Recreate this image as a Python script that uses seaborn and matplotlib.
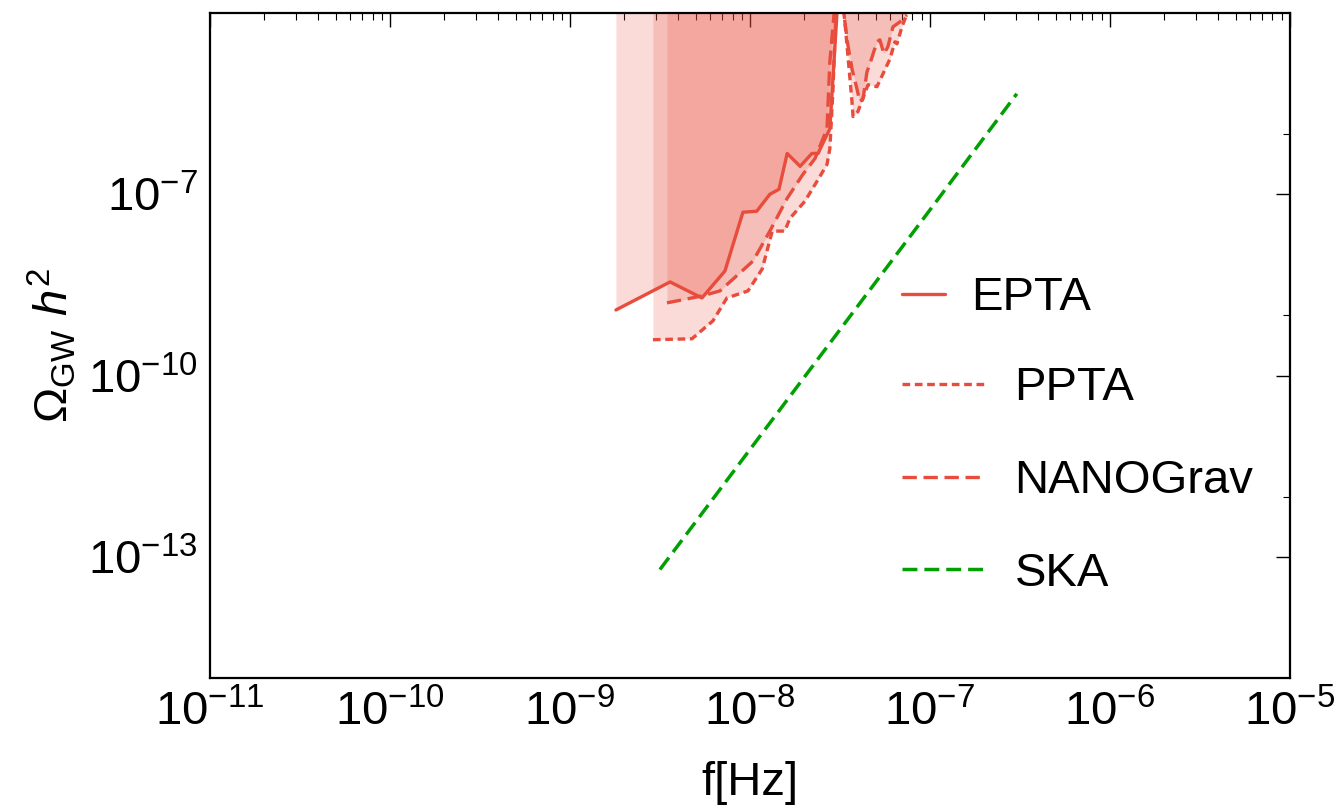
import matplotlib
matplotlib.use("Agg")
import matplotlib.pyplot as plt
import numpy as np
import seaborn as sns
from matplotlib.lines import Line2D
from matplotlib.ticker import FixedLocator, LogFormatterSciNotation, LogLocator, NullFormatter

# pulsar timing array limits
epta_f = [1.80e-9, 3.60e-9, 5.41e-9, 7.26e-9, 9.14e-9, 1.09e-8, 1.29e-8, 1.45e-8,
          1.61e-8, 1.90e-8, 2.21e-8, 2.39e-8, 2.78e-8, 3.09e-8]
epta_omega = [1.22e-9, 3.55e-9, 1.93e-9, 5.38e-9, 5.05e-8, 5.24e-8, 1.00e-7, 1.21e-7,
              4.74e-7, 2.90e-7, 4.74e-7, 4.74e-7, 1.22e-6, 2.0e-4]

ppta_f = [2.89e-9, 4.76e-9, 6.23e-9, 7.45e-9, 9.75e-9, 1.17e-8, 1.33e-8, 1.56e-8,
          1.67e-8, 2.02e-8, 2.45e-8, 2.68e-8, 2.78e-8, 2.89e-8, 3.00e-8, 3.12e-8,
          3.37e-8, 3.69e-8, 3.74e-8, 3.98e-8, 4.53e-8, 5.08e-8, 5.49e-8, 6.00e-8,
          6.39e-8, 6.56e-8, 6.99e-8, 7.45e-8]
ppta_omega = [3.93e-10, 4.07e-10, 8.07e-10, 1.93e-9, 2.52e-9, 5.81e-9, 2.46e-8, 2.46e-8,
              4.02e-8, 7.67e-8, 1.98e-7, 3.12e-7, 5.73e-7, 4.99e-6, 9.27e-5, 4.74e-4,
              7.10e-5, 3.41e-6, 1.93e-6, 2.33e-6, 6.50e-6, 6.03e-6, 9.87e-6, 1.74e-5,
              3.33e-5, 3.08e-5, 5.87e-5, 9.60e-5]

nano_f = [3.46e-9, 5.41e-9, 6.81e-9, 1.04e-8, 1.29e-8, 1.61e-8, 1.97e-8, 2.30e-8,
          2.68e-8, 2.78e-8, 2.93e-8, 3.04e-8, 3.37e-8, 3.50e-8, 3.69e-8, 3.93e-8,
          4.08e-8, 4.25e-8, 4.47e-8, 4.64e-8, 5.08e-8, 5.27e-8, 5.55e-8, 5.84e-8,
          6.23e-8, 6.81e-8, 7.45e-8]
nano_omega = [1.60e-9, 2.08e-9, 2.52e-9, 7.87e-9, 2.46e-8, 8.59e-8, 2.14e-7, 3.92e-7,
              1.22e-6, 1.56e-5, 9.27e-5, 4.74e-4, 7.10e-5, 2.96e-5, 1.19e-5, 5.58e-6,
              3.41e-6, 3.82e-6, 1.06e-5, 1.44e-5, 3.33e-5, 3.59e-5, 2.11e-5, 2.75e-5,
              5.87e-5, 7.10e-5, 9.27e-5]

ska_f = [3.16e-9, 1.0e-8, 1.0e-7, 3.04e-7]
ska_omega = [6.2e-14, 6.0e-12, 5.5e-8, 4.6e-6]

x_ticks = [1e-11, 1e-10, 1e-9, 1e-8, 1e-7, 1e-6, 1e-5]
y_ticks = [1e-13, 1e-10, 1e-7]
y_minor = [1e-12, 1e-9, 1e-6]

red = "#e74c3c"
green = "#00a000"
dotted = (0, (2.3, 1.4))
dashed = (0, (4.3, 2.0))

sns.set_style("white")
plt.rcParams["font.family"] = ["Liberation Sans", "DejaVu Sans"]
plt.rcParams["mathtext.fontset"] = "custom"
plt.rcParams["mathtext.rm"] = "Liberation Sans"
plt.rcParams["mathtext.it"] = "Liberation Sans:italic"
plt.rcParams["mathtext.bf"] = "Liberation Sans:bold"
for key in ["text.color", "axes.labelcolor", "xtick.color", "ytick.color"]:
    plt.rcParams[key] = "black"

fig, ax = plt.subplots(figsize=(13.38, 8.08), dpi=100)
fig.subplots_adjust(left=0.157, right=0.964, top=0.984, bottom=0.161)

# shaded excluded regions (above each curve)
for f, om in [(epta_f, epta_omega), (ppta_f, ppta_omega), (nano_f, nano_omega)]:
    ax.fill_between(f, om, 1e-2, color=red, alpha=0.2, lw=0)

sns.lineplot(x=epta_f, y=epta_omega, ax=ax, color=red, lw=2.4, sort=False,
             estimator=None, legend=False)
sns.lineplot(x=ppta_f, y=ppta_omega, ax=ax, color=red, lw=2.4, sort=False,
             estimator=None, legend=False, linestyle=dotted)
sns.lineplot(x=nano_f, y=nano_omega, ax=ax, color=red, lw=2.4, sort=False,
             estimator=None, legend=False, linestyle=dashed)
sns.lineplot(x=ska_f, y=ska_omega, ax=ax, color=green, lw=2.5, sort=False,
             estimator=None, legend=False, linestyle=dashed)

ax.set(xscale="log", yscale="log", xlim=(1e-11, 1e-5), ylim=(1e-15, 1e-4))

ax.xaxis.set_major_locator(FixedLocator(x_ticks))
ax.xaxis.set_minor_locator(LogLocator(base=10, subs=np.arange(2, 10)))
ax.xaxis.set_major_formatter(LogFormatterSciNotation())
ax.xaxis.set_minor_formatter(NullFormatter())
ax.yaxis.set_major_locator(FixedLocator(y_ticks))
ax.yaxis.set_minor_locator(FixedLocator(y_minor))
ax.yaxis.set_major_formatter(LogFormatterSciNotation())
ax.yaxis.set_minor_formatter(NullFormatter())

ax.tick_params(which="both", direction="in", top=True, right=True, color="black")
ax.tick_params(which="major", length=10, width=1.0, labelsize=34, pad=9)
ax.tick_params(which="minor", length=5, width=0.8)
for sp in ax.spines.values():
    sp.set_color("black")
    sp.set_linewidth(1.6)

ax.set_xlabel("f[Hz]", fontsize=34)
ax.set_ylabel(r"$\Omega_{\mathrm{GW}}\ h^2$", fontsize=34)
ax.xaxis.set_label_coords(0.5, -0.125)
ax.yaxis.set_label_coords(-0.122, 0.5)

# legend: EPTA has a shorter handle than the others
h_epta = [Line2D([], [], color=red, lw=2.4)]
h_rest = [Line2D([], [], color=red, lw=2.4, linestyle=dotted),
          Line2D([], [], color=red, lw=2.4, linestyle=dashed),
          Line2D([], [], color=green, lw=2.5, linestyle=dashed)]
leg1 = ax.legend(h_epta, ["EPTA"], loc="center left", bbox_to_anchor=(0.641, 0.571),
                 frameon=False, fontsize=34, handlelength=0.9, handletextpad=0.55,
                 borderpad=0, borderaxespad=0)
ax.add_artist(leg1)
ax.legend(h_rest, ["PPTA", "NANOGrav", "SKA"], loc="center left",
          bbox_to_anchor=(0.641, 0.296), frameon=False, fontsize=34,
          handlelength=1.78, handletextpad=0.6, labelspacing=1.03,
          borderpad=0, borderaxespad=0)

fig.savefig("out.png", dpi=100)
